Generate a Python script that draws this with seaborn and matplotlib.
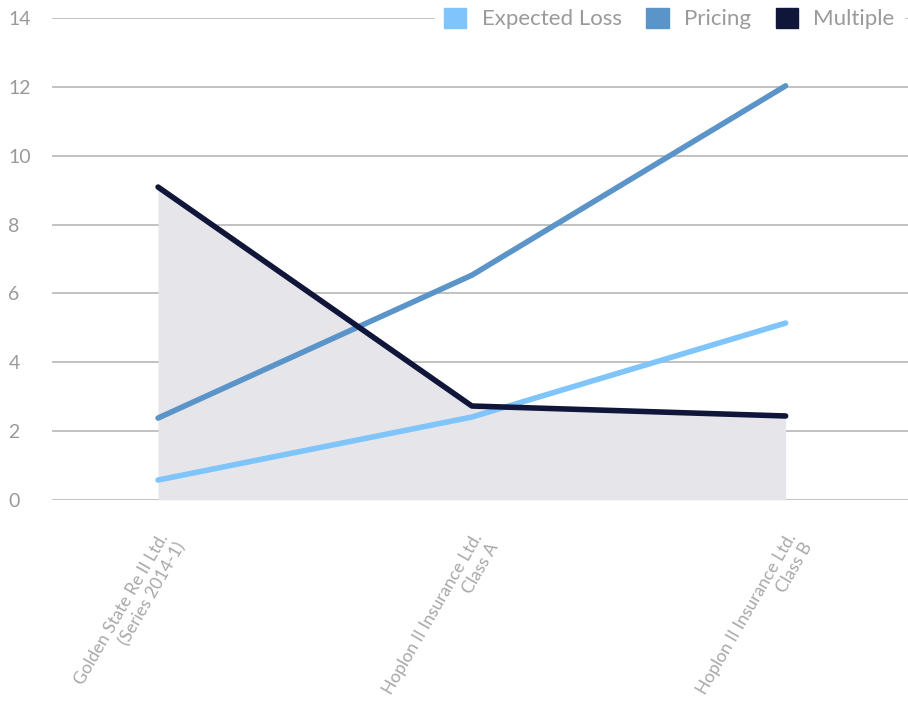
import matplotlib
matplotlib.use("Agg")
import matplotlib.pyplot as plt
import seaborn as sns
import pandas as pd
from matplotlib.patches import Patch

categories = ["Golden State Re II Ltd.\n(Series 2014-1)",
              "Hoplon II Insurance Ltd.\nClass A",
              "Hoplon II Insurance Ltd.\nClass B"]
expected_loss = [0.58, 2.41, 5.14]
pricing = [2.38, 6.53, 12.03]
multiple = [9.09, 2.73, 2.44]
series_names = ["Expected Loss", "Pricing", "Multiple"]
colors = ["#7fc4fb", "#5b94c8", "#10153a"]
yticks = [0, 2, 4, 6, 8, 10, 12, 14]

sns.set_theme(style="white")
plt.rcParams['font.family'] = ['Lato', 'DejaVu Sans']

rows = []
for name, vals in zip(series_names, [expected_loss, pricing, multiple]):
    for i, v in enumerate(vals):
        rows.append({"x": i, "value": v, "series": name})
df = pd.DataFrame(rows)

fig = plt.figure(figsize=(9.08, 7.10), dpi=100)
ax = fig.add_axes([52/908, (710-500)/710, 1-52/908, (500-18)/710])

ax.fill_between(range(len(categories)), multiple, 0, color="#e6e5ea", zorder=1, linewidth=0)
for y in yticks:
    ax.axhline(y, color="#bdbdbd", linewidth=1.3, zorder=0)

sns.lineplot(data=df, x="x", y="value", hue="series", palette=dict(zip(series_names, colors)),
             hue_order=series_names, linewidth=4, ax=ax, legend=False, zorder=3)

ax.set_xlim(-0.338, 2.39)
ax.set_ylim(0, 14)
ax.set_yticks(yticks)
ax.set_yticklabels([str(t) for t in yticks], color="#9a9a9a", fontsize=14)
ax.set_xticks(range(len(categories)))
ax.set_xticklabels(categories, rotation=60, ha="right", rotation_mode="anchor",
                   color="#a8a8a8", fontsize=12.5, multialignment="right")
ax.tick_params(axis="x", length=0, pad=22)
ax.set_xlabel("")
ax.set_ylabel("")
for s in ax.spines.values():
    s.set_visible(False)
ax.tick_params(axis="y", length=0, pad=0)
for lbl in ax.get_yticklabels():
    lbl.set_horizontalalignment("left")
    lbl.set_transform(ax.get_yaxis_transform())
    lbl.set_x(-0.051)

handles = [Patch(facecolor=c, edgecolor=c, label=n) for n, c in zip(series_names, colors)]
leg = fig.legend(handles=handles, loc="upper right", bbox_to_anchor=(1.0, 1.008), ncol=3,
                 frameon=True, handlelength=1.0, handleheight=1.0,
                 columnspacing=1.1, handletextpad=0.7, borderaxespad=0.2,
                 prop={"size": 16})
leg.get_frame().set_facecolor("white")
leg.get_frame().set_edgecolor("white")
leg.get_frame().set_alpha(1)
for t in leg.get_texts():
    t.set_color("#9a9a9a")

fig.savefig("out.png", dpi=100)
